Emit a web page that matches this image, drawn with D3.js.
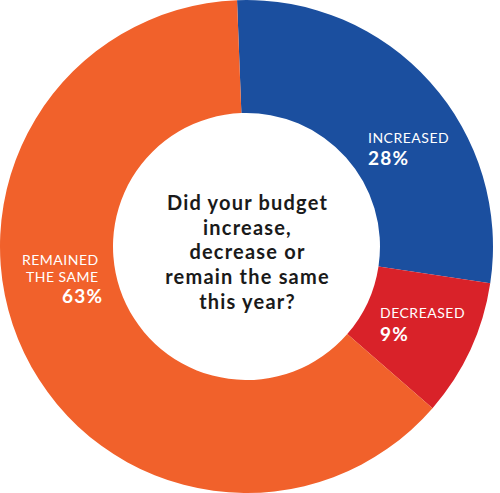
<!DOCTYPE html>
<html><head><meta charset="utf-8">
<script src="https://cdn.jsdelivr.net/npm/d3@7"></script>
<style>html,body{margin:0;padding:0;background:#fff;overflow:hidden}</style>
</head><body>
<svg id="chart" width="500" height="493"></svg>
<script>
const categories = ["INCREASED", "DECREASED", "REMAINED THE SAME"];
const values = [28, 9, 63];
const valueLabels = ["28%", "9%", "63%"];
const colors = ["#1B4F9F", "#D92229", "#F1612B"];
const question = ["Did your budget", "increase,", "decrease or", "remain the same", "this year?"];

const cx = 246.5, cy = 246.5, outerR = 246.5, innerR = 133.5;
const startAngle = -2.2 * Math.PI / 180;

const svg = d3.select("#chart");
const g = svg.append("g").attr("transform", `translate(${cx},${cy})`);

const pie = d3.pie().sort(null).value(d => d)
  .startAngle(startAngle).endAngle(startAngle + 2 * Math.PI);
const arc = d3.arc().innerRadius(innerR).outerRadius(outerR);
const arcs = pie(values);

g.selectAll("path.slice").data(arcs).join("path")
  .attr("class", "slice")
  .attr("d", arc)
  .attr("fill", (d, i) => colors[i]);

// label layout (relative to centre): x, baselines of name lines and value line
const labelLayout = [
  { names: [{x: 121.5, y: -103.5}], val: {x: 121.5, y: -81.5} },
  { names: [{x: 133.5, y: 71.5}], val: {x: 133.5, y: 94.5} },
  { names: [{x: -224.5, y: 18.5}, {x: -220.5, y: 35.5}], val: {x: -184.5, y: 56.5} }
];
const nameLines = [["INCREASED"], ["DECREASED"], ["REMAINED", "THE SAME"]];

arcs.forEach((a, i) => {
  const L = labelLayout[i];
  nameLines[i].forEach((t, j) => {
    g.append("text").attr("x", L.names[j].x).attr("y", L.names[j].y)
      .attr("fill", "#fff").attr("font-family", "Lato, sans-serif")
      .attr("font-size", 14).attr("letter-spacing", 0.5).text(t);
  });
  g.append("text").attr("x", L.val.x).attr("y", L.val.y)
    .attr("fill", "#fff").attr("font-family", "Lato, sans-serif")
    .attr("font-weight", 700).attr("font-size", 19).attr("letter-spacing", 1.2).text(valueLabels[i]);
});

const qStart = -36.5, qStep = 24.7;
g.selectAll("text.q").data(question).join("text")
  .attr("class", "q")
  .attr("x", 1)
  .attr("y", (d, i) => qStart + i * qStep)
  .attr("text-anchor", "middle")
  .attr("fill", "#1a1a1a")
  .attr("font-family", "Lato, sans-serif")
  .attr("font-weight", 700)
  .attr("font-size", 20)
  .attr("letter-spacing", 1.2)
  .text(d => d);
</script>
</body></html>
